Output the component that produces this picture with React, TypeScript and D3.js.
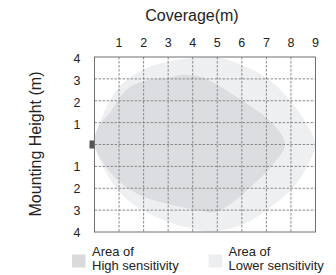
import * as d3 from "d3";

const xTickLabels = [1, 2, 3, 4, 5, 6, 7, 8, 9];
const yTickLabels = [4, 3, 2, 1, -1, -2, -3, -4];
const gridX = [1, 2, 3, 4, 5, 6, 7, 8];
const gridY = [-3, -2, -1, 0, 1, 2, 3];

// area outlines, [coverage m, height m]
const lowerArea: [number, number][] = [
  [0.05, 0.3], [0.4, 1.5], [1.04, 2.67], [1.98, 3.43], [3.08, 3.81], [4.3, 3.98],
  [5.11, 3.98], [6.05, 3.6], [7.01, 3.05], [7.88, 2.13], [8.57, 1.07], [8.98, 0.03],
  [8.7, -0.91], [8.09, -1.97], [7.15, -2.88], [6.05, -3.66], [4.83, -3.98], [4.3, -3.93],
  [3.08, -3.57], [2.14, -3.11], [1.32, -2.51], [0.63, -1.6], [0.06, -0.23],
];
const highArea: [number, number][] = [
  [0.0, 0.0], [0.14, 0.78], [0.63, 1.46], [1.31, 2.51], [1.98, 2.89], [3.08, 3.06],
  [3.48, 3.18], [4.3, 3.1], [4.83, 2.83], [5.93, 2.06], [7.15, 1.07], [7.76, 0.03],
  [7.27, -0.91], [6.33, -1.97], [5.52, -2.74], [4.83, -3.11], [4.3, -3.02], [3.08, -2.74],
  [1.98, -2.38], [1.04, -1.74], [0.35, -0.82],
];

const legendItems = [
  { label: ["Area of", "High sensitivity"], color: "#d9dadc" },
  { label: ["Area of", "Lower sensitivity"], color: "#edeef0" },
];

export default function App() {
  const width = 336;
  const height = 275;
  const x = d3.scaleLinear().domain([0, 9]).range([94.5, 315.5]);
  const y = d3.scaleLinear().domain([-4, 4]).range([232, 57]);

  const line = d3
    .line<[number, number]>()
    .x((d) => x(d[0]))
    .y((d) => y(d[1]))
    .curve(d3.curveCatmullRomClosed);

  const font = "Liberation Sans, Arial, sans-serif";
  const [x0, x1] = x.range();
  const [y0, y1] = [y(4), y(-4)];

  return (
    <svg
      width={width}
      height={height}
      style={{ position: "absolute", left: 0, top: 0, background: "#fff" }}
      fontFamily={font}
    >
      <defs>
        <clipPath id="plot">
          <rect x={x0} y={y0} width={x1 - x0} height={y1 - y0} />
        </clipPath>
      </defs>

      <text x={192} y={21} fontSize={16} textAnchor="middle" fill="#222">
        Coverage(m)
      </text>
      <text
        transform="translate(41,144) rotate(-90)"
        fontSize={16}
        textAnchor="middle"
        fill="#222"
      >
        Mounting Height (m)
      </text>

      <g clipPath="url(#plot)">
        <path d={line(lowerArea) || ""} fill="#eeeff1" />
        <path d={line(highArea) || ""} fill="#dcdde0" />
      </g>

      {gridX.map((d) => (
        <line
          key={"gx" + d}
          x1={x(d)}
          x2={x(d)}
          y1={y0}
          y2={y1}
          stroke="#8a8a8a"
          strokeDasharray="2.5,1.5"
        />
      ))}
      {gridY.map((d) => (
        <line
          key={"gy" + d}
          x1={x0}
          x2={x1}
          y1={y(d)}
          y2={y(d)}
          stroke="#8a8a8a"
          strokeDasharray="2.5,1.5"
        />
      ))}

      <rect x={x0} y={y0} width={x1 - x0} height={y1 - y0} fill="none" stroke="#707070" />
      <rect x={89.5} y={y(0) - 4} width={4.5} height={8} fill="#555" />

      {xTickLabels.map((d) => (
        <text key={"xt" + d} x={x(d)} y={47} fontSize={12.5} textAnchor="middle" fill="#222">
          {d}
        </text>
      ))}
      {yTickLabels.map((d) => (
        <text
          key={"yt" + d}
          x={77}
          y={y(d) + (d > 0 ? 6 : 4.5)}
          fontSize={12.5}
          textAnchor="middle"
          fill="#222"
        >
          {Math.abs(d)}
        </text>
      ))}

      {legendItems.map((item, i) => {
        const lx = i === 0 ? 72 : 208.5;
        return (
          <g key={"lg" + i}>
            <rect x={lx} y={254.5} width={13.5} height={13} fill={item.color} />
            <text x={lx + 20} y={256} fontSize={13} fill="#222">
              {item.label[0]}
            </text>
            <text x={lx + 20} y={269.5} fontSize={13} fill="#222">
              {item.label[1]}
            </text>
          </g>
        );
      })}
    </svg>
  );
}
